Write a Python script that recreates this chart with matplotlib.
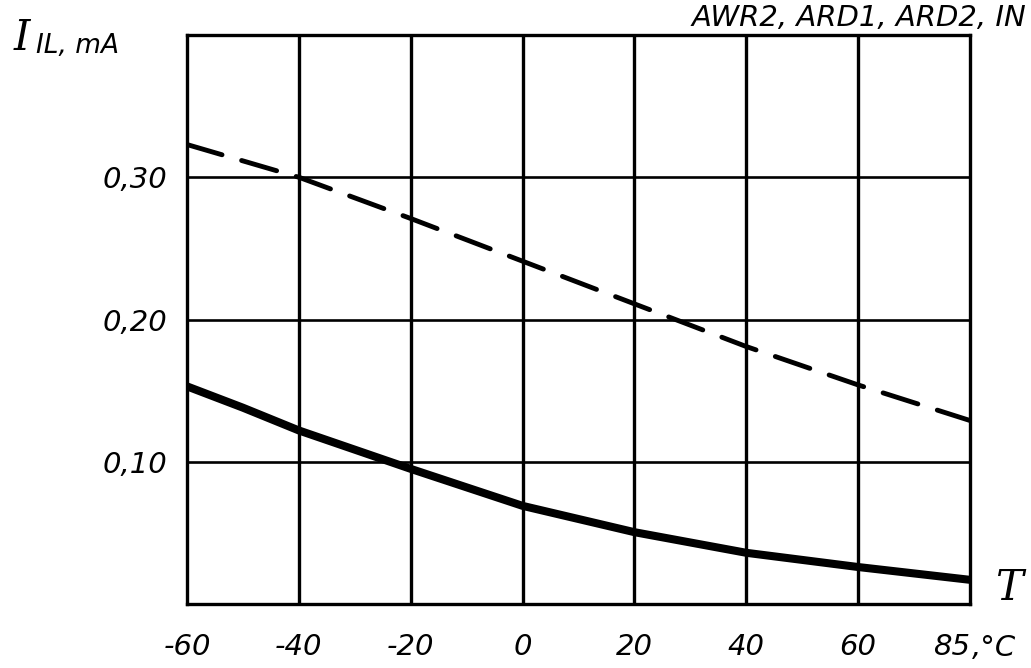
import matplotlib.pyplot as plt
import numpy as np

# temperature ticks (85 sits where 80 would be on the printed grid)
t_ticks = [-60, -40, -20, 0, 20, 40, 60, 85]
t_labels = ["-60", "-40", "-20", "0", "20", "40", "60", "85"]

# mA
t_dash = [-60, -40, -20, 0, 20, 40, 60, 85]
i_dash = [0.323, 0.300, 0.271, 0.241, 0.211, 0.181, 0.154, 0.129]
t_solid = [-60, -50, -40, -20, 0, 20, 40, 60, 85]
i_solid = [0.153, 0.138, 0.122, 0.095, 0.069, 0.0505, 0.036, 0.026, 0.017]

y_ticks = [0.10, 0.20, 0.30]
y_labels = ["0,10", "0,20", "0,30"]

pos = np.arange(len(t_ticks))
def tpos(t):
    return np.interp(t, t_ticks, pos)

fig = plt.figure(figsize=(10.31, 6.68), dpi=100)
ax = fig.add_axes([0.1814, 0.0958, 0.7594, 0.8518])

ax.plot(tpos(t_solid), i_solid, color="black", lw=5.8, solid_capstyle="butt", zorder=3)
ax.plot(tpos(t_dash), i_dash, color="black", lw=3.5, dashes=(7.5, 4.2), dash_capstyle="round", zorder=3)

for p in pos[1:-1]:
    ax.axvline(p, color="black", lw=2.4, zorder=2)
for y in y_ticks:
    ax.axhline(y, color="black", lw=1.9, zorder=2)

ax.set_xlim(pos[0], pos[-1])
ax.set_ylim(0, 0.40)
for s in ax.spines.values():
    s.set_linewidth(2.4)

ax.set_xticks(pos)
ax.set_xticklabels(t_labels, fontsize=21, style="italic")
ax.set_yticks(y_ticks)
ax.set_yticklabels(y_labels, fontsize=21, style="italic")
ax.tick_params(axis="x", length=0, pad=21)
ax.tick_params(axis="y", length=0, pad=14)
ax.get_xticklabels()[-1].set_horizontalalignment("right")
ax.text(1.003, -0.052, ",°C", transform=ax.transAxes, fontsize=21, style="italic",
        ha="left", va="top")

# axis names, hand-lettered in the original
fig.text(14 / 1031, 1 - 50 / 668, "I", fontsize=30, style="italic", family="DejaVu Serif")
fig.text(36 / 1031, 1 - 53 / 668, "IL, mA", fontsize=19, style="italic")
fig.text(995 / 1031, 1 - 600 / 668, "T", fontsize=30, style="italic", family="DejaVu Serif")
fig.text(692 / 1031, 1 - 26 / 668, "AWR2, ARD1, ARD2, IN", fontsize=21, style="italic")

fig.savefig("out.png", dpi=100)
